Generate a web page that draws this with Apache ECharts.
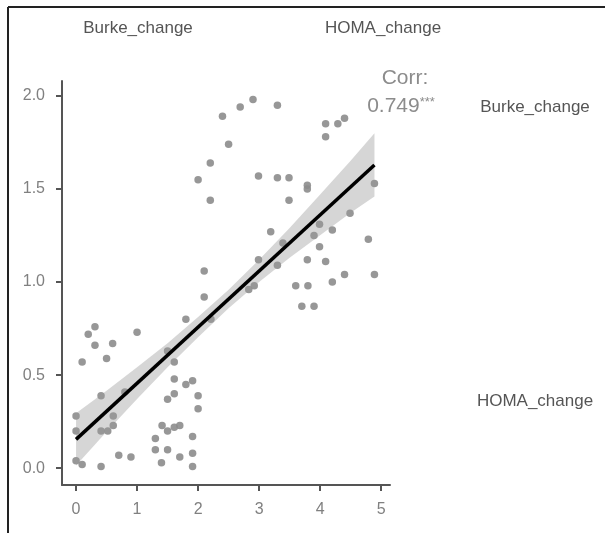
<!DOCTYPE html>
<html>
<head>
<meta charset="utf-8">
<script src="https://cdn.jsdelivr.net/npm/echarts@6/dist/echarts.min.js"></script>
<style>
  html, body { margin: 0; padding: 0; background: #fff; }
  #main { width: 605px; height: 533px; }
</style>
</head>
<body>
<div id="main"></div>
<script>
// Burke_change (x) vs HOMA_change (y)
var burke = [
  2.40, 2.69, 2.90, 3.30, 4.09, 4.29, 4.40, 4.09, 2.50, 2.20,
  2.00, 2.20, 2.99, 3.30, 3.49, 3.79, 3.79, 3.49, 4.89, 4.49,
  3.99, 4.20, 3.90, 3.99, 4.79, 3.19, 3.39, 3.79, 4.09, 2.99,
  3.30, 2.83, 2.92, 3.60, 3.80, 4.20, 4.40, 4.89, 3.70, 3.90,
  2.10, 2.10, 1.80, 2.21,
  0.20, 0.31, 0.31, 0.60, 1.00, 0.10, 0.50, 1.50, 1.61, 1.61,
  1.80, 1.91, 1.50, 1.61, 2.00, 2.00, 0.41, 0.80, 0.00, 0.00,
  0.41, 0.52, 0.61, 0.61, 1.41, 1.50, 1.61, 1.70, 1.30, 1.91,
  1.30, 1.50, 1.91, 1.40, 1.70, 1.91, 0.00, 0.10, 0.41, 0.70,
  0.90
];
var homa = [
  1.89, 1.94, 1.98, 1.95, 1.85, 1.85, 1.88, 1.78, 1.74, 1.64,
  1.55, 1.44, 1.57, 1.56, 1.56, 1.52, 1.50, 1.44, 1.53, 1.37,
  1.31, 1.28, 1.25, 1.19, 1.23, 1.27, 1.21, 1.12, 1.11, 1.12,
  1.09, 0.96, 0.98, 0.98, 0.98, 1.00, 1.04, 1.04, 0.87, 0.87,
  1.06, 0.92, 0.80, 0.80,
  0.72, 0.76, 0.66, 0.67, 0.73, 0.57, 0.59, 0.63, 0.57, 0.48,
  0.45, 0.47, 0.37, 0.40, 0.39, 0.32, 0.39, 0.41, 0.28, 0.20,
  0.20, 0.20, 0.28, 0.23, 0.23, 0.20, 0.22, 0.23, 0.16, 0.17,
  0.10, 0.10, 0.08, 0.03, 0.06, 0.01, 0.04, 0.02, 0.01, 0.07,
  0.06
];

// lm fit line and its confidence band
var fitX = [0, 4.89];
var fitY = [0.155, 1.629];
var bandX = [0, 0.5, 1, 1.5, 2, 2.5, 3, 3.5, 4, 4.5, 4.89];
var bandLow = [0.015, 0.196, 0.372, 0.542, 0.703, 0.859, 1.000, 1.130, 1.251, 1.372, 1.459];
var bandHigh = [0.295, 0.416, 0.542, 0.672, 0.813, 0.959, 1.120, 1.290, 1.471, 1.652, 1.799];

var xTicks = [0, 1, 2, 3, 4, 5];
var yTicks = [0, 0.5, 1, 1.5, 2];
var colNames = ['Burke_change', 'HOMA_change'];
var corrLabel = 'Corr:';
var corrValue = '0.749';
var corrStars = '***';

var FONT = '"Liberation Sans", Arial, sans-serif';

var chart = echarts.init(document.getElementById('main'), null, { renderer: 'canvas' });

var points = burke.map(function (x, i) { return [x, homa[i]]; });
var bandData = bandX.map(function (x, i) { return [x, bandLow[i], bandHigh[i]]; });

function stripText(x, y, txt) {
  return {
    type: 'text', x: x, y: y,
    style: { text: txt, fill: '#555', font: '17px ' + FONT, textAlign: 'center', textVerticalAlign: 'middle' }
  };
}

var option = {
  backgroundColor: '#fff',
  animation: false,
  grid: { left: 62, right: 215, top: 81, bottom: 48 },
  xAxis: {
    type: 'value',
    min: -0.23,
    max: 5.145,
    splitLine: { show: false },
    axisLine: { show: true, onZero: false, lineStyle: { color: '#555', width: 2 } },
    axisTick: { show: true, length: 6, customValues: xTicks, lineStyle: { color: '#555', width: 2 } },
    axisLabel: {
      customValues: xTicks, color: '#808080', fontSize: 16, fontFamily: FONT, margin: 17
    }
  },
  yAxis: {
    type: 'value',
    min: -0.09,
    max: 2.08,
    splitLine: { show: false },
    axisLine: { show: true, onZero: false, lineStyle: { color: '#555', width: 2 } },
    axisTick: { show: true, length: 6, customValues: yTicks, lineStyle: { color: '#555', width: 2 } },
    axisLabel: {
      customValues: yTicks, color: '#808080', fontSize: 16, fontFamily: FONT, margin: 17,
      formatter: function (v) { return v.toFixed(1); }
    }
  },
  series: [
    {
      type: 'scatter',
      data: points,
      symbolSize: 7.5,
      itemStyle: { color: '#8c8c8c', opacity: 0.9 },
      z: 2
    },
    {
      type: 'custom',
      data: bandData,
      encode: { x: 0, y: [1, 2] },
      z: 3,
      renderItem: function (params, api) {
        if (params.dataIndex !== 0) return;
        var pts = [];
        for (var i = 0; i < bandX.length; i++) pts.push(api.coord([bandX[i], bandHigh[i]]));
        for (var j = bandX.length - 1; j >= 0; j--) pts.push(api.coord([bandX[j], bandLow[j]]));
        return {
          type: 'polygon',
          shape: { points: pts },
          style: { fill: 'rgba(153,153,153,0.4)', stroke: null }
        };
      }
    },
    {
      type: 'line',
      data: fitX.map(function (x, i) { return [x, fitY[i]]; }),
      symbol: 'none',
      lineStyle: { color: '#000', width: 3.5 },
      z: 4
    }
  ],
  graphic: [
    // frame around the figure (top and left edges)
    { type: 'line', shape: { x1: 8, y1: 7, x2: 605, y2: 7 }, style: { stroke: '#222', lineWidth: 2 } },
    { type: 'line', shape: { x1: 8, y1: 7, x2: 8, y2: 533 }, style: { stroke: '#222', lineWidth: 2 } },
    stripText(138, 28, colNames[0]),
    stripText(383, 28, colNames[1]),
    stripText(535, 107, colNames[0]),
    stripText(535, 401, colNames[1]),
    { type: 'text', x: 405, y: 78, style: { text: corrLabel, fill: '#8c8c8c', font: '21px ' + FONT, textAlign: 'center', textVerticalAlign: 'middle' } },
    {
      type: 'text', x: 401, y: 106,
      style: {
        text: '{a|' + corrValue + '}{b|' + corrStars + '}',
        textAlign: 'center', textVerticalAlign: 'middle',
        rich: {
          a: { fontSize: 21, fontFamily: FONT, fill: '#8c8c8c', color: '#8c8c8c' },
          b: { fontSize: 13, fontFamily: FONT, fill: '#8c8c8c', color: '#8c8c8c', verticalAlign: 'top', padding: [0, 0, 8, 0] }
        }
      }
    }
  ]
};

chart.setOption(option);
</script>
</body>
</html>
